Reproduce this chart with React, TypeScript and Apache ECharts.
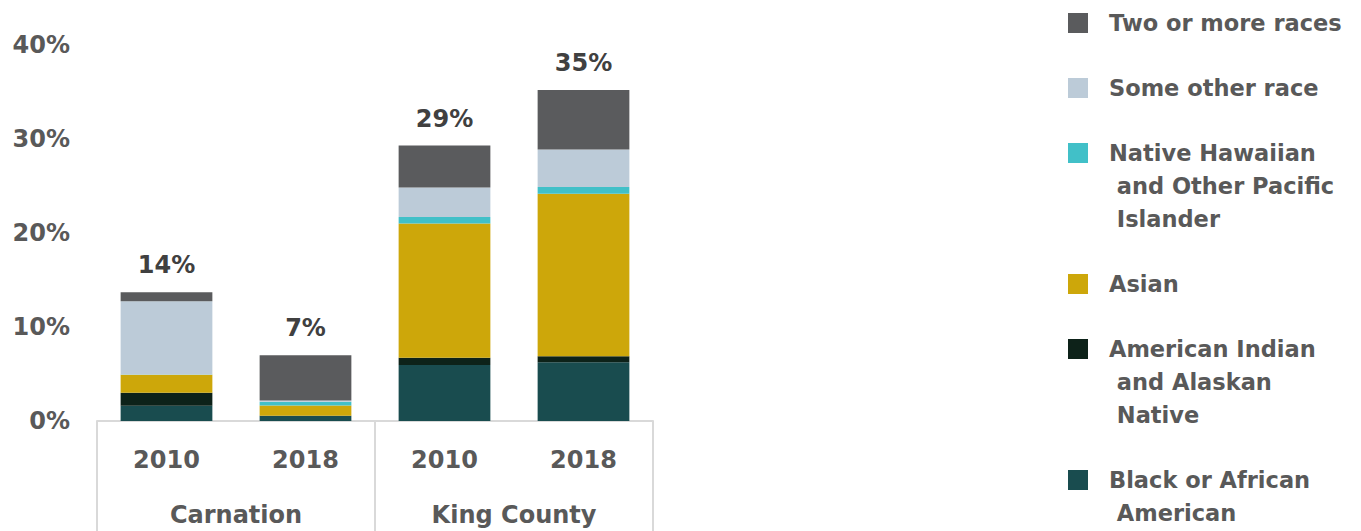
import React, { useEffect, useRef } from "react";
import * as echarts from "echarts";

const years = ["2010", "2018", "2010", "2018"];
const places = ["Carnation", "King County"];
const yTicks = [0, 10, 20, 30, 40];

const seriesNames = [
  "Black or African\n American",
  "American Indian\n and Alaskan\n Native",
  "Asian",
  "Native Hawaiian\n and Other Pacific\n Islander",
  "Some other race",
  "Two or more races",
];
const seriesColors = ["#194c4f", "#0d2219", "#cda70a", "#41c0c8", "#bccbd8", "#5a5b5d"];

const black = [1.63, 0.53, 5.96, 6.24];
const amIndian = [1.38, 0.02, 0.78, 0.64];
const asian = [1.91, 1.1, 14.26, 17.3];
const nhpi = [0.03, 0.39, 0.71, 0.71];
const otherRace = [7.8, 0.14, 3.12, 4.0];
const twoPlus = [0.96, 4.82, 4.47, 6.31];

const seriesValues = [black, amIndian, asian, nhpi, otherRace, twoPlus];

const FONT = "'DejaVu Sans', sans-serif";

export default function App() {
  const ref = useRef<HTMLDivElement>(null);
  useEffect(() => {
    if (!ref.current) return;
    const chart = echarts.init(ref.current, null, { renderer: "svg" });
    const totals = years.map((_, i) => seriesValues.reduce((s, arr) => s + arr[i], 0));

    const series: any[] = seriesValues.map((vals, si) => ({
      name: seriesNames[si],
      type: "bar",
      stack: "total",
      xAxisIndex: 0,
      barWidth: "66%",
      data: vals,
      itemStyle: { color: seriesColors[si] },
      label:
        si === seriesValues.length - 1
          ? {
              show: true,
              position: "top",
              distance: 15,
              formatter: (p: any) => Math.round(totals[p.dataIndex]) + "%",
              color: "#404040",
              fontSize: 24,
              fontWeight: "bold",
              fontFamily: FONT,
            }
          : { show: false },
    }));

    // legend drawn as graphic, top item first
    const graphic: any[] = [];
    let top = 6.5;
    const lineH = 33;
    for (let si = seriesNames.length - 1; si >= 0; si--) {
      const lines = seriesNames[si].split("\n").length;
      graphic.push({
        type: "rect",
        left: 1068,
        top: top + lineH / 2 - 10,
        shape: { width: 20, height: 20 },
        style: { fill: seriesColors[si] },
      });
      graphic.push({
        type: "text",
        left: 1109,
        top: top,
        style: {
          text: seriesNames[si],
          fill: "#595959",
          font: `bold 22.5px ${FONT}`,
          lineHeight: lineH,
        },
      });
      top += lines * lineH + 32;
    }

    chart.setOption({
      animation: false,
      grid: { left: 97, right: 708, top: 45, bottom: 110, containLabel: false },
      xAxis: [
        {
          type: "category",
          data: years,
          position: "bottom",
          axisLine: { show: true, lineStyle: { color: "#d9d9d9", width: 2 } },
          axisTick: { show: false },
          axisLabel: {
            color: "#595959",
            fontSize: 24,
            fontWeight: "bold",
            fontFamily: FONT,
            margin: 27,
          },
        },
        {
          type: "category",
          data: places,
          position: "bottom",
          axisLine: { show: false },
          axisTick: { show: true, length: 112, lineStyle: { color: "#d9d9d9", width: 2 } },
          axisLabel: {
            color: "#595959",
            fontSize: 24,
            fontWeight: "bold",
            fontFamily: FONT,
            margin: 82,
          },
        },
      ],
      yAxis: {
        type: "value",
        min: yTicks[0],
        max: yTicks[yTicks.length - 1],
        interval: 10,
        axisLine: { show: false },
        axisTick: { show: false },
        splitLine: { show: false },
        axisLabel: {
          formatter: "{value}%",
          color: "#595959",
          fontSize: 24,
          fontWeight: "bold",
          fontFamily: FONT,
          margin: 27,
        },
      },
      series,
      graphic,
    });
    return () => chart.dispose();
  }, []);
  return (
    <div
      ref={ref}
      style={{ position: "absolute", left: 0, top: 0, width: 1361, height: 531, background: "#fff" }}
    />
  );
}
